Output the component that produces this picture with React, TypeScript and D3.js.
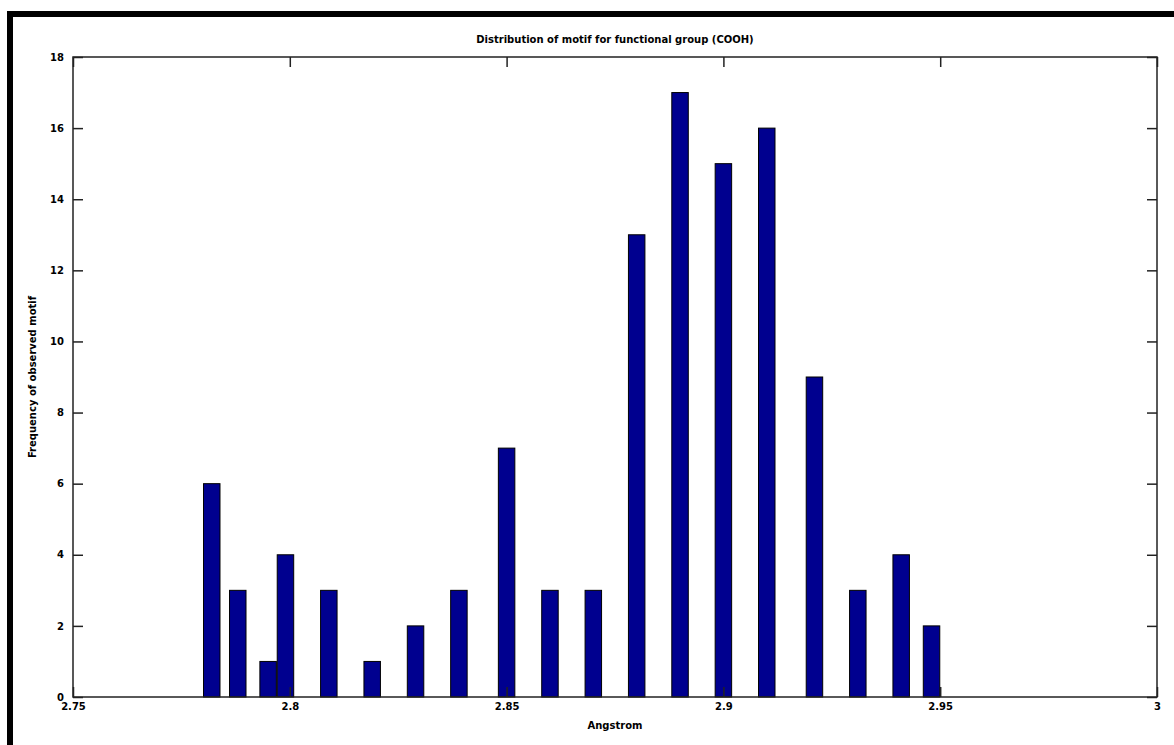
import { useEffect, useRef } from 'react';
import * as d3 from 'd3';

// bar positions (Angstrom) and counts
const BIN_CENTERS = [
  2.782, 2.788, 2.795, 2.799, 2.809, 2.819, 2.829, 2.839, 2.85, 2.86,
  2.87, 2.88, 2.89, 2.9, 2.91, 2.921, 2.931, 2.941, 2.948,
];
const COUNTS = [6, 3, 1, 4, 3, 1, 2, 3, 7, 3, 3, 13, 17, 15, 16, 9, 3, 4, 2];
const X_TICKS = [2.75, 2.8, 2.85, 2.9, 2.95, 3];
const X_TICK_LABELS = ['2.75', '2.8', '2.85', '2.9', '2.95', '3'];
const Y_TICKS = [0, 2, 4, 6, 8, 10, 12, 14, 16, 18];

const TITLE = 'Distribution of motif for functional group (COOH)';
const X_LABEL = 'Angstrom';
const Y_LABEL = 'Frequency of observed motif';

const W = 1174;
const H = 745;
const BAR_WIDTH = 0.0038;
const FONT = '"DejaVu Sans", sans-serif';

export default function App() {
  const svgRef = useRef<SVGSVGElement | null>(null);

  useEffect(() => {
    document.body.style.margin = '0';
    if (!svgRef.current) return;

    const svg = d3.select(svgRef.current);
    svg.selectAll('*').remove();

    const left = 73, right = 1157, top = 57, bottom = 697;
    const x = d3.scaleLinear().domain([2.75, 3]).range([left, right]);
    const y = d3.scaleLinear().domain([0, 18]).range([bottom, top]);

    svg.append('rect').attr('width', W).attr('height', H).attr('fill', '#fff');

    // figure frame (top and left thick bands)
    svg.append('rect').attr('x', 7).attr('y', 11).attr('width', W - 7).attr('height', 6).attr('fill', '#000');
    svg.append('rect').attr('x', 7).attr('y', 11).attr('width', 6).attr('height', H - 11).attr('fill', '#000');

    // bars
    svg.append('g')
      .selectAll('rect')
      .data(BIN_CENTERS.map((c, i) => ({ c, v: COUNTS[i] })))
      .join('rect')
      .attr('x', d => x(d.c - BAR_WIDTH / 2))
      .attr('y', d => y(d.v))
      .attr('width', d => x(d.c + BAR_WIDTH / 2) - x(d.c - BAR_WIDTH / 2))
      .attr('height', d => y(0) - y(d.v))
      .attr('fill', '#00008f')
      .attr('stroke', '#000')
      .attr('stroke-width', 1);

    // axes box
    svg.append('rect')
      .attr('x', left).attr('y', top)
      .attr('width', right - left).attr('height', bottom - top)
      .attr('fill', 'none').attr('stroke', '#222').attr('stroke-width', 1.5);

    const tickLen = 10;
    const styleAxis = (g: any) => {
      g.select('.domain').remove();
      g.selectAll('.tick line').attr('stroke', '#222').attr('stroke-width', 1.5);
      g.selectAll('.tick text')
        .attr('font-family', FONT).attr('font-size', 10).attr('font-weight', 'bold').attr('fill', '#000');
    };

    // x axis bottom (inward ticks), labels below
    svg.append('g')
      .attr('transform', `translate(0,${bottom})`)
      .call(d3.axisBottom(x).tickValues(X_TICKS).tickSizeInner(-tickLen).tickSizeOuter(0).tickPadding(6)
        .tickFormat((_d: any, i: number) => X_TICK_LABELS[i]))
      .call(styleAxis);

    // x axis top ticks
    svg.append('g')
      .attr('transform', `translate(0,${top})`)
      .call(d3.axisTop(x).tickValues(X_TICKS).tickSizeInner(-tickLen).tickSizeOuter(0).tickFormat(() => ''))
      .call(styleAxis);

    // y axis left
    svg.append('g')
      .attr('transform', `translate(${left},0)`)
      .call(d3.axisLeft(y).tickValues(Y_TICKS).tickSizeInner(-tickLen).tickSizeOuter(0).tickPadding(9)
        .tickFormat(d3.format('d')))
      .call(styleAxis);

    // y axis right ticks
    svg.append('g')
      .attr('transform', `translate(${right},0)`)
      .call(d3.axisRight(y).tickValues(Y_TICKS).tickSizeInner(-tickLen).tickSizeOuter(0).tickFormat(() => ''))
      .call(styleAxis);

    // title and labels
    svg.append('text')
      .attr('x', (left + right) / 2).attr('y', 43)
      .attr('text-anchor', 'middle')
      .attr('font-family', FONT).attr('font-size', 10).attr('font-weight', 'bold')
      .text(TITLE);

    svg.append('text')
      .attr('x', (left + right) / 2).attr('y', 729)
      .attr('text-anchor', 'middle')
      .attr('font-family', FONT).attr('font-size', 10).attr('font-weight', 'bold')
      .text(X_LABEL);

    svg.append('text')
      .attr('transform', `translate(36,${(top + bottom) / 2}) rotate(-90)`)
      .attr('text-anchor', 'middle')
      .attr('font-family', FONT).attr('font-size', 10).attr('font-weight', 'bold')
      .text(Y_LABEL);
  }, []);

  return <svg ref={svgRef} width={W} height={H} style={{ display: 'block' }} />;
}
